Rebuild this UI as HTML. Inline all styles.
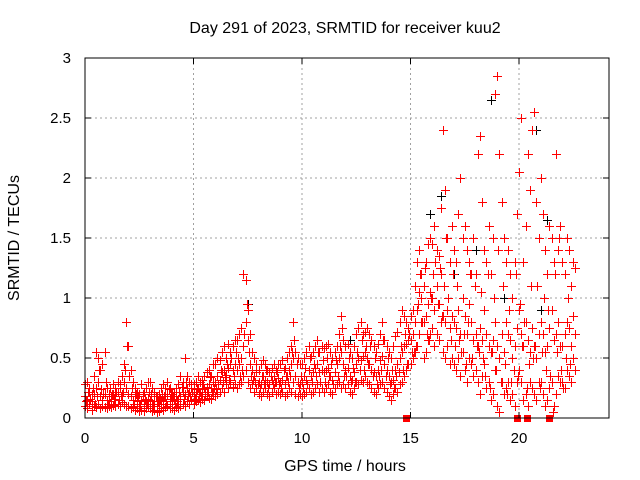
<!DOCTYPE html>
<html><head><meta charset="utf-8"><style>
body{margin:0;background:#fff}
svg{display:block;font-family:"Liberation Sans",sans-serif}
</style></head><body>
<svg id="chart" width="640" height="480" viewBox="0 0 640 480">
<rect width="640" height="480" fill="#fff"/>
<text x="345" y="33" font-size="16" text-anchor="middle">Day 291 of 2023, SRMTID for receiver kuu2</text>
<text x="19" y="238" font-size="16" text-anchor="middle" transform="rotate(-90 19 238)">SRMTID / TECUs</text>
<text x="345" y="471" font-size="16" text-anchor="middle">GPS time / hours</text>
<g id="grid"></g>
<g id="marks" shape-rendering="crispEdges"></g>
<g id="axes"></g>
</svg>
<script>
const xTicks=[0,5,10,15,20];
const yTicks=[0,0.5,1,1.5,2,2.5,3];
const yTickLabels=["0","0.5","1","1.5","2","2.5","3"];
const t0=0, dt=0.1;
const lo=[.10,.08,.12,.07,.10,.09,.12,.08,.10,.09,.08,.10,.09,.11,.10,.12,.10,.13,.12,.10,.10,.08,.09,.07,.08,.06,.07,.06,.08,.10,.08,.06,.07,.05,.06,.08,.07,.09,.10,.08,.08,.07,.09,.08,.10,.12,.10,.14,.12,.15,.12,.14,.15,.13,.16,.15,.18,.17,.16,.20,.18,.20,.22,.25,.22,.28,.25,.30,.26,.28,.25,.28,.30,.35,.40,.30,.25,.28,.22,.25,.20,.18,.22,.25,.20,.18,.22,.25,.20,.22,.20,.22,.18,.20,.25,.22,.30,.20,.18,.20,.18,.20,.22,.25,.20,.22,.25,.28,.22,.25,.22,.25,.28,.22,.20,.25,.28,.30,.25,.28,.25,.28,.22,.20,.25,.30,.28,.32,.30,.35,.30,.28,.25,.22,.20,.25,.28,.30,.25,.22,.18,.15,.20,.25,.22,.28,.30,.35,.40,.45,.45,.50,.55,.60,.70,.80,.50,.55,.65,.70,.75,.60,.70,.65,.80,.55,.50,.60,.45,.50,.45,.40,.50,.35,.55,.40,.30,.50,.45,.35,.40,.30,.20,.35,.45,.25,.30,.15,.20,.40,.10,.05,.30,.20,.25,.30,.15,.20,.10,.30,.40,.30,.15,.20,.10,.30,.25,.20,.15,.30,.30,.20,.10,.15,.25,.30,.10,.20,.35,.30,.30,.25,.40,.35,.30,.50,.40];
const mid=[.18,.15,.22,.14,.20,.25,.30,.18,.15,.20,.15,.18,.14,.20,.18,.22,.25,.20,.30,.25,.20,.18,.15,.18,.14,.12,.15,.12,.14,.16,.15,.12,.14,.10,.12,.15,.14,.18,.20,.16,.14,.15,.18,.16,.18,.22,.20,.25,.22,.25,.20,.22,.25,.22,.24,.25,.26,.28,.25,.30,.30,.35,.32,.38,.40,.36,.42,.45,.40,.45,.40,.45,.50,.60,.80,.65,.45,.40,.35,.38,.30,.28,.35,.32,.30,.28,.32,.35,.30,.33,.30,.32,.28,.35,.40,.45,.50,.35,.30,.28,.30,.35,.32,.40,.35,.38,.42,.45,.38,.40,.38,.40,.42,.35,.32,.38,.45,.50,.55,.45,.40,.42,.35,.32,.38,.45,.50,.48,.52,.55,.50,.45,.40,.38,.35,.40,.48,.52,.45,.40,.35,.30,.32,.40,.45,.50,.55,.60,.62,.65,.65,.70,.80,.90,1.05,1.00,.80,.85,.95,1.05,1.00,.90,1.10,.95,1.20,.85,.80,.90,.75,.85,.80,.75,.90,.70,1.00,.85,.70,.95,.80,.65,.70,.60,.75,.65,.90,.70,.60,.55,.65,.80,.60,.50,.70,.55,.80,.70,.65,.50,.60,.75,.90,.70,.60,.80,.65,.55,.75,.60,.50,.70,.80,.70,.55,.60,.75,.90,.65,.70,.80,.60,.60,.70,.80,.75,.60,.85,.70];
const hi=[.28,.30,.25,.20,.35,.55,.50,.40,.45,.55,.25,.20,.18,.28,.25,.30,.28,.35,.45,.80,.60,.40,.30,.25,.22,.20,.28,.22,.25,.30,.30,.25,.22,.18,.20,.25,.28,.25,.30,.25,.20,.22,.25,.28,.35,.30,.50,.35,.30,.28,.28,.30,.35,.30,.32,.35,.38,.40,.35,.45,.45,.50,.48,.55,.60,.50,.62,.55,.60,.65,.65,.70,.75,1.20,1.15,.90,.70,.55,.50,.45,.40,.45,.48,.45,.40,.38,.42,.45,.40,.45,.45,.48,.42,.50,.55,.60,.80,.55,.50,.45,.45,.50,.55,.60,.52,.55,.60,.65,.55,.60,.58,.60,.62,.55,.50,.55,.60,.70,.85,.65,.60,.62,.55,.50,.60,.70,.75,.80,.70,.72,.75,.70,.65,.60,.55,.62,.70,.80,.65,.60,.55,.50,.60,.68,.72,.80,.90,.85,.80,.75,.85,.90,1.10,1.30,1.40,1.20,1.10,1.30,1.45,1.50,1.45,1.60,1.40,1.35,1.75,2.40,1.90,1.50,1.30,1.60,1.40,1.30,1.70,2.00,1.50,1.60,1.40,1.30,1.20,1.50,1.20,2.20,2.35,1.80,1.40,1.30,1.60,1.20,1.50,2.70,2.85,2.20,1.80,1.50,1.30,1.40,1.20,1.00,1.30,1.70,2.05,2.50,1.30,1.60,2.20,1.90,2.40,2.55,1.80,1.50,2.00,1.70,1.40,1.20,1.60,1.50,1.30,2.20,1.40,1.60,1.30,1.20,1.50,1.40,1.10,1.30,1.25];
const extra=[.14,.22,.16,.25,.12,.18,.40,.24,.20,.30,.12,.25,.20,.16,.22,.15,.18,.22,.40,.60,.35,.25,.12,.20,.18,.10,.20,.16,.12,.22,.20,.10,.18,.14,.16,.20,.18,.12,.24,.20,.18,.12,.14,.22,.26,.16,.30,.20,.18,.22,.16,.24,.20,.18,.28,.20,.22,.34,.22,.25,.24,.28,.40,.30,.34,.45,.32,.50,.35,.55,.50,.35,.40,.70,.95,.55,.35,.32,.30,.28,.25,.35,.28,.40,.25,.35,.28,.30,.38,.28,.25,.40,.35,.30,.35,.55,.65,.45,.25,.35,.25,.42,.28,.50,.30,.45,.35,.55,.30,.48,.30,.50,.35,.45,.28,.48,.35,.60,.75,.35,.35,.50,.30,.42,.30,.55,.40,.65,.40,.60,.45,.60,.35,.50,.28,.35,.40,.65,.35,.50,.28,.40,.25,.35,.38,.60,.40,.70,.45,.70,.55,.55,.60,.95,1.20,.80,1.25,.70,.65,1.00,1.20,1.30,.95,1.25,.85,1.10,1.50,1.00,.65,1.20,.60,1.10,.65,.55,.70,.45,.80,1.20,.50,1.10,.60,.55,1.05,.50,.35,1.20,.25,.55,1.00,.40,1.40,.30,1.10,.45,.20,.90,.30,.40,1.20,.35,.95,.60,.80,.25,.45,1.10,.50,.60,1.10,.25,.55,1.00,.40,.90,.35,.05,1.20,.55,1.50,.40,.25,.50,1.00,.45];
const blackT=[15.9,16.4,17.0,18.0,18.7,19.3,20.8,21.3,21.0,7.5,12.2];
const blackV=[1.70,1.85,1.20,1.40,2.65,1.00,2.40,1.65,.90,.95,.65];
const zeroT=[14.8,19.9,20.35,21.4];

const L=85,R=609,T=58,B=418;
const X=t=>L+(t-0)*21.7;
const Y=v=>B-(v/3)*(B-T);
const NS="http://www.w3.org/2000/svg";
function mk(tag,attrs,parent){const e=document.createElementNS(NS,tag);for(const k in attrs)e.setAttribute(k,attrs[k]);parent.appendChild(e);return e;}
const grid=document.getElementById('grid'),marks=document.getElementById('marks'),axes=document.getElementById('axes');
xTicks.forEach(t=>{if(t===0)return;const l=mk('line',{x1:X(t),x2:X(t),y1:T,y2:B,stroke:'#a0a0a0','stroke-dasharray':'2,3'},grid);

});
yTicks.forEach(v=>{if(v===0||v===3)return;const l=mk('line',{x1:L,x2:R,y1:Y(v),y2:Y(v),stroke:'#a0a0a0','stroke-dasharray':'2,3'},grid);

});
function plus(x,y,c){x=Math.round(x)+0.5;y=Math.round(y)+0.5;const p=mk('path',{d:`M${x-4.5},${y}h9M${x},${y-4.5}v9`,stroke:c,'stroke-width':1.4,fill:'none'},marks);

}
blackT.forEach((t,i)=>plus(X(t),Y(blackV[i]),'#000'));
[lo,mid,hi].forEach(arr=>arr.forEach((v,i)=>{if(v==null)return;plus(X(t0+i*dt),Y(v),'#f00');}));
extra.forEach((v,i)=>{if(v==null)return;plus(X(t0+i*dt+dt/2),Y(v),'#f00');});
zeroT.forEach(t=>{const r=mk('rect',{x:Math.round(X(t))-3,y:B-3,width:7,height:7,fill:'#f00'},marks);

});
const fr=mk('rect',{x:L,y:T,width:R-L,height:B-T,fill:'none',stroke:'#000','stroke-width':1},axes);


xTicks.forEach(t=>{mk('line',{x1:X(t),x2:X(t),y1:B,y2:B-6,stroke:'#000'},axes);mk('line',{x1:X(t),x2:X(t),y1:T,y2:T+6,stroke:'#000'},axes);
const tx=mk('text',{x:X(t),y:B+25,'font-size':15,'text-anchor':'middle'},axes);tx.textContent=String(t);

});
yTicks.forEach((v,i)=>{mk('line',{x1:L,x2:L+6,y1:Y(v),y2:Y(v),stroke:'#000'},axes);mk('line',{x1:R,x2:R-6,y1:Y(v),y2:Y(v),stroke:'#000'},axes);
const tx=mk('text',{x:L-14,y:Y(v)+5,'font-size':15,'text-anchor':'end'},axes);tx.textContent=yTickLabels[i];

});
</script>
</body></html>
